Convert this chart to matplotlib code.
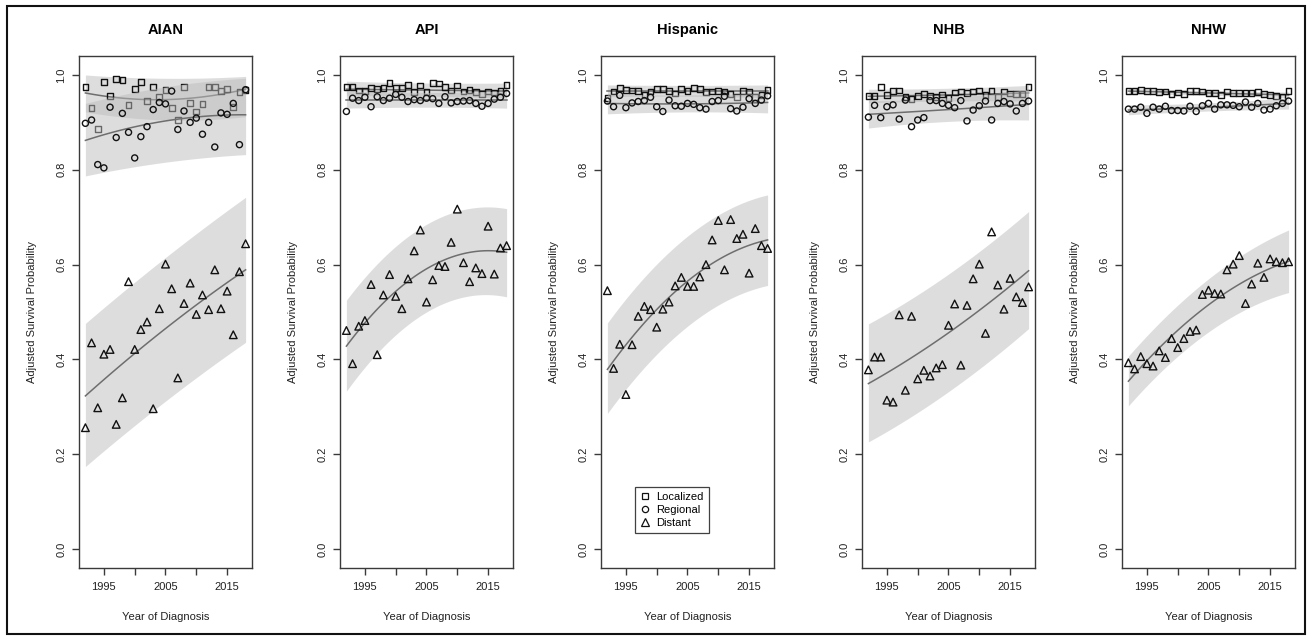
import numpy as np
import matplotlib
matplotlib.use('Agg')
import matplotlib.pyplot as plt
from matplotlib.patches import Rectangle
from matplotlib.lines import Line2D

plt.rcParams['font.family'] = ['Liberation Sans', 'DejaVu Sans']

# ---------------- data ----------------
years = [1992, 1993, 1994, 1995, 1996, 1997, 1998, 1999, 2000, 2001, 2002, 2003, 2004,
         2005, 2006, 2007, 2008, 2009, 2010, 2011, 2012, 2013, 2014, 2015, 2016, 2017, 2018]
groups = ['AIAN', 'API', 'Hispanic', 'NHB', 'NHW']
stages = ['Localized', 'Regional', 'Distant']
xtick_pos = [1995, 2000, 2005, 2010, 2015]
xtick_labels = ['1995', '', '2005', '', '2015']
ytick_pos = [0.0, 0.2, 0.4, 0.6, 0.8, 1.0]
ytick_labels = ['0.0', '0.2', '0.4', '0.6', '0.8', '1.0']

aian_loc = [0.974, 0.931, 0.886, 0.985, 0.955, 0.991, 0.990, 0.936, 0.970, 0.985, 0.945, 0.974, 0.953,
            0.968, 0.930, 0.905, 0.975, 0.941, 0.923, 0.938, 0.975, 0.974, 0.966, 0.971, 0.933, 0.964, 0.969]
aian_reg = [0.898, 0.905, 0.811, 0.804, 0.932, 0.868, 0.919, 0.879, 0.825, 0.870, 0.891, 0.927, 0.942,
            0.939, 0.966, 0.885, 0.924, 0.900, 0.909, 0.875, 0.900, 0.848, 0.920, 0.917, 0.940, 0.853, 0.969]
aian_dist = [0.256, 0.435, 0.298, 0.411, 0.421, 0.263, 0.319, 0.564, 0.421, 0.463, 0.479, 0.296, 0.507,
             0.601, 0.549, 0.361, 0.518, 0.561, 0.495, 0.536, 0.505, 0.589, 0.507, 0.544, 0.452, 0.585, 0.644]

api_loc = [0.975, 0.975, 0.967, 0.966, 0.973, 0.971, 0.973, 0.983, 0.973, 0.973, 0.979, 0.964, 0.978,
           0.964, 0.983, 0.982, 0.975, 0.967, 0.978, 0.965, 0.969, 0.964, 0.960, 0.965, 0.963, 0.966, 0.979]
api_reg = [0.923, 0.951, 0.946, 0.953, 0.933, 0.954, 0.946, 0.951, 0.959, 0.953, 0.944, 0.948, 0.946,
           0.951, 0.950, 0.940, 0.954, 0.941, 0.944, 0.945, 0.946, 0.940, 0.934, 0.940, 0.949, 0.953, 0.961]
api_dist = [0.461, 0.391, 0.470, 0.482, 0.558, 0.410, 0.536, 0.579, 0.533, 0.507, 0.570, 0.629, 0.673,
            0.521, 0.568, 0.598, 0.596, 0.647, 0.717, 0.604, 0.564, 0.593, 0.581, 0.681, 0.580, 0.635, 0.640]

hisp_loc = [0.952, 0.965, 0.973, 0.968, 0.967, 0.966, 0.957, 0.965, 0.970, 0.970, 0.966, 0.961, 0.970,
            0.966, 0.972, 0.970, 0.964, 0.965, 0.966, 0.965, 0.960, 0.953, 0.966, 0.965, 0.954, 0.958, 0.968]
hisp_reg = [0.945, 0.933, 0.957, 0.931, 0.941, 0.944, 0.946, 0.953, 0.933, 0.923, 0.947, 0.935, 0.934,
            0.940, 0.938, 0.931, 0.928, 0.944, 0.946, 0.955, 0.929, 0.924, 0.932, 0.950, 0.940, 0.947, 0.956]
hisp_dist = [0.545, 0.381, 0.432, 0.326, 0.431, 0.491, 0.512, 0.505, 0.468, 0.506, 0.521, 0.555, 0.573,
             0.554, 0.554, 0.574, 0.600, 0.652, 0.693, 0.589, 0.695, 0.655, 0.664, 0.582, 0.676, 0.640, 0.634]

nhb_loc = [0.956, 0.956, 0.975, 0.958, 0.966, 0.967, 0.954, 0.950, 0.956, 0.960, 0.956, 0.954, 0.959,
           0.951, 0.963, 0.965, 0.962, 0.965, 0.967, 0.958, 0.966, 0.954, 0.965, 0.961, 0.960, 0.960, 0.975]
nhb_reg = [0.911, 0.936, 0.910, 0.933, 0.937, 0.907, 0.947, 0.891, 0.905, 0.910, 0.946, 0.946, 0.940,
           0.936, 0.931, 0.946, 0.903, 0.926, 0.935, 0.945, 0.905, 0.940, 0.944, 0.939, 0.924, 0.940, 0.945]
nhb_dist = [0.378, 0.405, 0.405, 0.314, 0.310, 0.494, 0.335, 0.491, 0.359, 0.377, 0.365, 0.382, 0.389,
            0.472, 0.517, 0.388, 0.514, 0.570, 0.601, 0.455, 0.669, 0.557, 0.506, 0.571, 0.532, 0.520, 0.553]

nhw_loc = [0.966, 0.966, 0.968, 0.966, 0.966, 0.964, 0.965, 0.960, 0.963, 0.960, 0.966, 0.966, 0.965,
           0.962, 0.962, 0.957, 0.965, 0.962, 0.962, 0.962, 0.962, 0.964, 0.960, 0.957, 0.955, 0.954, 0.966]
nhw_reg = [0.928, 0.928, 0.932, 0.919, 0.932, 0.928, 0.934, 0.925, 0.925, 0.924, 0.934, 0.923, 0.935,
           0.940, 0.928, 0.937, 0.937, 0.936, 0.933, 0.943, 0.932, 0.940, 0.926, 0.928, 0.935, 0.940, 0.945]
nhw_dist = [0.393, 0.380, 0.406, 0.391, 0.386, 0.418, 0.404, 0.444, 0.425, 0.444, 0.459, 0.462, 0.537,
            0.546, 0.539, 0.538, 0.589, 0.601, 0.619, 0.518, 0.559, 0.603, 0.573, 0.612, 0.606, 0.604, 0.606]

# fitted curves and confidence bands, read at 1992 / 2005 / 2018
anchor_years = [1992, 2005, 2018]
aian_fit = [0.962, 0.948, 0.970]; aian_fit_lo = [0.922, 0.905, 0.912]; aian_fit_hi = [1.000, 0.993, 0.997]
aian_rfit = [0.862, 0.903, 0.916]; aian_rfit_lo = [0.787, 0.816, 0.832]; aian_rfit_hi = [0.940, 0.975, 0.993]
aian_dfit = [0.323, 0.465, 0.589]; aian_dfit_lo = [0.174, 0.312, 0.436]; aian_dfit_hi = [0.476, 0.615, 0.742]

api_fit = [0.970, 0.968, 0.966]; api_fit_lo = [0.956, 0.955, 0.952]; api_fit_hi = [0.987, 0.983, 0.983]
api_rfit = [0.947, 0.947, 0.947]; api_rfit_lo = [0.930, 0.932, 0.930]; api_rfit_hi = [0.966, 0.963, 0.966]
api_dfit = [0.428, 0.591, 0.626]; api_dfit_lo = [0.333, 0.500, 0.532]; api_dfit_hi = [0.525, 0.685, 0.718]

hisp_fit = [0.966, 0.966, 0.966]; hisp_fit_lo = [0.954, 0.955, 0.952]; hisp_fit_hi = [0.979, 0.978, 0.979]
hisp_rfit = [0.940, 0.939, 0.942]; hisp_rfit_lo = [0.918, 0.922, 0.920]; hisp_rfit_hi = [0.960, 0.958, 0.962]
hisp_dfit = [0.379, 0.565, 0.652]; hisp_dfit_lo = [0.286, 0.470, 0.556]; hisp_dfit_hi = [0.477, 0.660, 0.747]

nhb_fit = [0.955, 0.958, 0.962]; nhb_fit_lo = [0.941, 0.945, 0.945]; nhb_fit_hi = [0.970, 0.972, 0.978]
nhb_rfit = [0.917, 0.927, 0.938]; nhb_rfit_lo = [0.888, 0.902, 0.905]; nhb_rfit_hi = [0.946, 0.952, 0.970]
nhb_dfit = [0.349, 0.456, 0.587]; nhb_dfit_lo = [0.226, 0.332, 0.465]; nhb_dfit_hi = [0.475, 0.580, 0.712]

nhw_fit = [0.966, 0.962, 0.958]; nhw_fit_lo = [0.960, 0.957, 0.952]; nhw_fit_hi = [0.972, 0.967, 0.964]
nhw_rfit = [0.926, 0.932, 0.940]; nhw_rfit_lo = [0.916, 0.924, 0.928]; nhw_rfit_hi = [0.937, 0.941, 0.952]
nhw_dfit = [0.354, 0.515, 0.607]; nhw_dfit_lo = [0.302, 0.458, 0.541]; nhw_dfit_hi = [0.407, 0.570, 0.673]

panel_points = {
    'AIAN': (aian_loc, aian_reg, aian_dist),
    'API': (api_loc, api_reg, api_dist),
    'Hispanic': (hisp_loc, hisp_reg, hisp_dist),
    'NHB': (nhb_loc, nhb_reg, nhb_dist),
    'NHW': (nhw_loc, nhw_reg, nhw_dist),
}
panel_fits = {
    'AIAN': [(aian_fit, aian_fit_lo, aian_fit_hi), (aian_rfit, aian_rfit_lo, aian_rfit_hi), (aian_dfit, aian_dfit_lo, aian_dfit_hi)],
    'API': [(api_fit, api_fit_lo, api_fit_hi), (api_rfit, api_rfit_lo, api_rfit_hi), (api_dfit, api_dfit_lo, api_dfit_hi)],
    'Hispanic': [(hisp_fit, hisp_fit_lo, hisp_fit_hi), (hisp_rfit, hisp_rfit_lo, hisp_rfit_hi), (hisp_dfit, hisp_dfit_lo, hisp_dfit_hi)],
    'NHB': [(nhb_fit, nhb_fit_lo, nhb_fit_hi), (nhb_rfit, nhb_rfit_lo, nhb_rfit_hi), (nhb_dfit, nhb_dfit_lo, nhb_dfit_hi)],
    'NHW': [(nhw_fit, nhw_fit_lo, nhw_fit_hi), (nhw_rfit, nhw_rfit_lo, nhw_rfit_hi), (nhw_dfit, nhw_dfit_lo, nhw_dfit_hi)],
}

# ---------------- style ----------------
W, H = 1312, 640
fig = plt.figure(figsize=(W / 100, H / 100), dpi=100)
markers = ['s', 'o', '^']
msizes = [17, 19, 30]
band_color = '#bdbdbd'
band_alpha = 0.5
line_color = '#6e6e6e'
axis_color = '#3a3a3a'

ax_lefts = [79, 340, 601, 862, 1122]
ax_w, ax_top, ax_bottom = 173, 56, 568

yrs = np.array(years, dtype=float)
xlo = min(years) - 0.04 * (max(years) - min(years))
xhi = max(years) + 0.04 * (max(years) - min(years))


def smooth(anchors):
    c = np.polyfit(np.array(anchor_years) - 2005.0, anchors, 2)
    xs = np.linspace(min(years), max(years), 120)
    return xs, np.polyval(c, xs - 2005.0)


for gi, g in enumerate(groups):
    ax = fig.add_axes([ax_lefts[gi] / W, (H - ax_bottom) / H, ax_w / W, (ax_bottom - ax_top) / H])
    pts = panel_points[g]
    fits = panel_fits[g]
    for si in range(3):
        fit, lo, hi = fits[si]
        xs, yfit = smooth(fit)
        _, ylo = smooth(lo)
        _, yhi = smooth(hi)
        z = 1 + si * 3
        ax.fill_between(xs, ylo, yhi, color=band_color, alpha=band_alpha, lw=0, zorder=z)
        ax.plot(xs, yfit, color=line_color, lw=1.1, zorder=z + 1)
        ax.scatter(yrs, pts[si], marker=markers[si], s=msizes[si], facecolors='none',
                   edgecolors='#111111', linewidths=1.0, zorder=z + 2)
    ax.set_xlim(xlo, xhi)
    ax.set_ylim(-0.04, 1.04)
    ax.set_xticks(xtick_pos)
    ax.set_xticklabels(xtick_labels)
    ax.set_yticks(ytick_pos)
    ax.set_yticklabels(ytick_labels, rotation=90, va='center')
    ax.tick_params(axis='both', direction='out', length=5, width=1, color=axis_color,
                   labelsize=8, labelcolor='#222222')
    ax.tick_params(axis='x', pad=5)
    ax.tick_params(axis='y', pad=4)
    for sp in ax.spines.values():
        sp.set_color(axis_color)
        sp.set_linewidth(1.0)
    ax.set_title(g, fontsize=10.5, fontweight='bold', pad=16)
    ax.set_xlabel('Year of Diagnosis', fontsize=8, color='#222222')
    ax.set_ylabel('Adjusted Survival Probability', fontsize=8, color='#222222')
    ax.xaxis.set_label_coords(0.5, -(612 - ax_bottom) / (ax_bottom - ax_top))
    ax.yaxis.set_label_coords(-(ax_lefts[gi] - 1080) / ax_w if False else -42 / ax_w, 0.5)

    if g == 'Hispanic':
        handles = [Line2D([], [], marker=markers[i], linestyle='none', markerfacecolor='none',
                          markeredgecolor='#111111', markersize=[4.5, 4.5, 5.2][i], markeredgewidth=0.9)
                   for i in range(3)]
        leg = ax.legend(handles, stages, loc='lower left', bbox_to_anchor=(0.197, 0.068),
                        fontsize=8, frameon=True, fancybox=False, handlelength=0.8,
                        handletextpad=0.6, borderpad=0.5, labelspacing=0.25, borderaxespad=0)
        leg.get_frame().set_edgecolor('#111111')
        leg.get_frame().set_linewidth(0.9)

fig.add_artist(Rectangle((7 / W, 6 / H), (1305 - 7) / W, (634 - 6) / H, transform=fig.transFigure,
                         fill=False, edgecolor='#111111', linewidth=1.5))

fig.savefig('out.png', dpi=100)
